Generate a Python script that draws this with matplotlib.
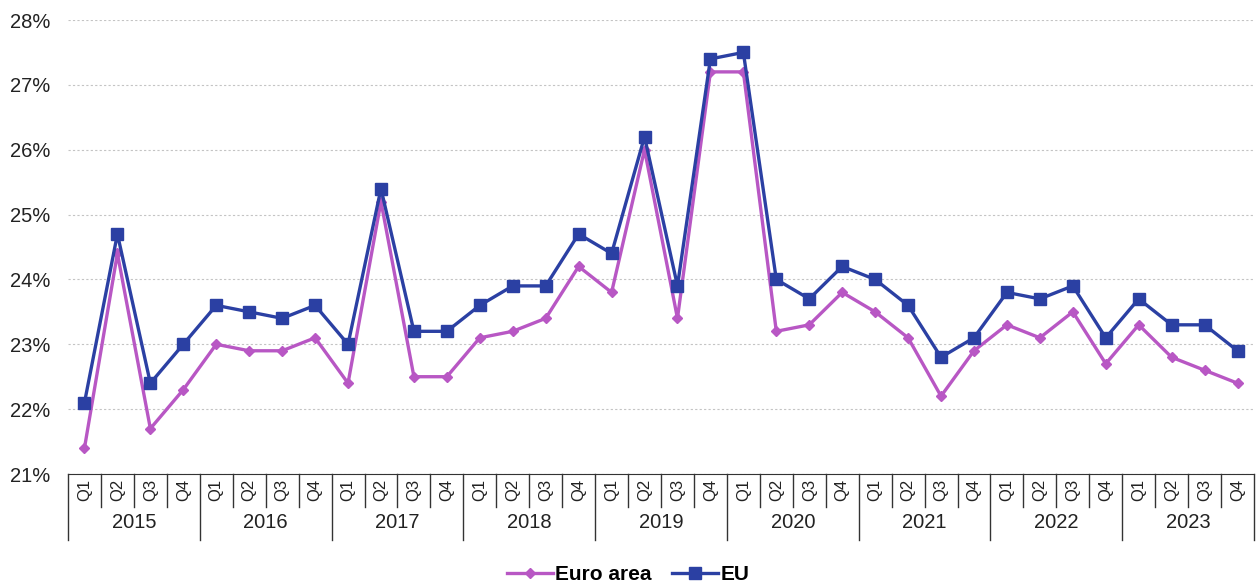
import matplotlib.pyplot as plt
import matplotlib.transforms as mtransforms
import numpy as np

plt.rcParams['font.family'] = ['Liberation Sans', 'DejaVu Sans']

years = ['2015', '2016', '2017', '2018', '2019', '2020', '2021', '2022', '2023']
quarters = ['Q1', 'Q2', 'Q3', 'Q4']

euro_area = [21.4, 24.4, 21.7, 22.3,
             23.0, 22.9, 22.9, 23.1,
             22.4, 25.2, 22.5, 22.5,
             23.1, 23.2, 23.4, 24.2,
             23.8, 26.0, 23.4, 27.2,
             27.2, 23.2, 23.3, 23.8,
             23.5, 23.1, 22.2, 22.9,
             23.3, 23.1, 23.5, 22.7,
             23.3, 22.8, 22.6, 22.4]

eu = [22.1, 24.7, 22.4, 23.0,
      23.6, 23.5, 23.4, 23.6,
      23.0, 25.4, 23.2, 23.2,
      23.6, 23.9, 23.9, 24.7,
      24.4, 26.2, 23.9, 27.4,
      27.5, 24.0, 23.7, 24.2,
      24.0, 23.6, 22.8, 23.1,
      23.8, 23.7, 23.9, 23.1,
      23.7, 23.3, 23.3, 22.9]

purple = '#b857c4'
blue = '#2b40a3'

fig = plt.figure(figsize=(12.56, 5.88), dpi=100)
ax = fig.add_axes([68 / 1256, 1 - 474 / 588, (1254 - 68) / 1256, 454 / 588])

x = np.arange(len(eu))
ax.plot(x, euro_area, color=purple, lw=2.4, marker='D', ms=5.5, label='Euro area', zorder=3)
ax.plot(x, eu, color=blue, lw=2.4, marker='s', ms=8, label='EU', zorder=4)

ax.set_xlim(-0.5, len(eu) - 0.5)
ax.set_ylim(21, 28)
ax.set_yticks(np.arange(21, 28.5, 1))
ax.set_yticklabels([f'{v}%' for v in range(21, 29)], fontsize=14.5, color='#222222')
ax.tick_params(axis='y', length=0, pad=12.5)
ax.set_xticks([])
ax.grid(axis='y', color='#c4c4c4', lw=0.8, ls=(0, (2, 2)))
for s in ['left', 'right', 'top']:
    ax.spines[s].set_visible(False)
ax.spines['bottom'].set_color('#333333')

# two-level category axis
tr = mtransforms.blended_transform_factory(ax.transData, ax.transAxes)
q_depth = -33 / 454
y_depth = -66 / 454
for i in range(len(eu)):
    ax.text(i, -16 / 454, quarters[i % 4], transform=tr, rotation=90,
            ha='center', va='center', fontsize=12, color='#222222')
for i in range(len(eu) + 1):
    depth = y_depth if i % 4 == 0 else q_depth
    ax.plot([i - 0.5, i - 0.5], [0, depth], transform=tr, color='#333333',
            lw=1, clip_on=False)
for j, yr in enumerate(years):
    ax.text(j * 4 + 1.5, -49 / 454, yr, transform=tr, ha='center', va='center',
            fontsize=14.5, color='#222222')

fig.legend(loc='center', bbox_to_anchor=(0.5, 1 - 575 / 588), ncol=2, frameon=False,
           prop={'weight': 'bold', 'size': 15}, handlelength=2.2, handletextpad=0.1,
           columnspacing=1.0)

fig.savefig('out.png', dpi=100)
